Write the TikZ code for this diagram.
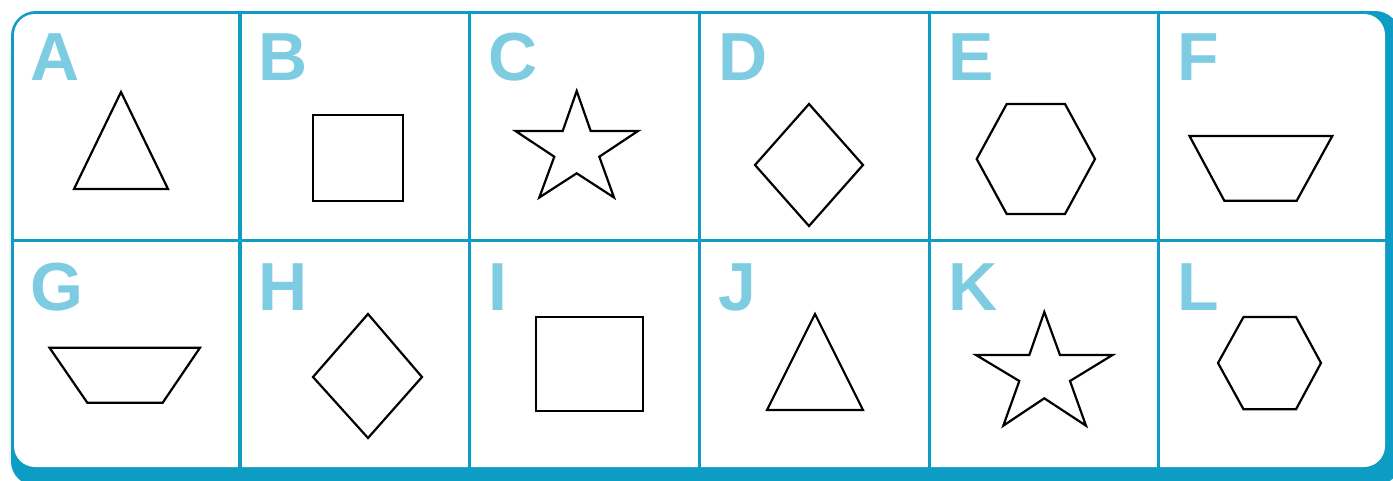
\documentclass[tikz,border=0pt]{standalone}
\usepackage{fontspec}
\setmainfont{Liberation Sans}
\definecolor{frame}{RGB}{12,156,196}
\definecolor{letter}{RGB}{126,204,226}
\tikzset{
  lab/.style={anchor=base west, inner sep=0pt, text=letter, font=\fontsize{68}{68}\bfseries\selectfont},
  shp/.style={draw=black, line width=2.2pt, line join=miter},
  grid/.style={draw=frame, line width=3.5pt}
}
\begin{document}
\begin{tikzpicture}[x=1pt,y=-1pt]
\useasboundingbox (0,0) rectangle (1393,480);
% frame
\fill[gray!10, rounded corners=25pt] (9,30) rectangle (1393,484);
\fill[frame, rounded corners=25pt] (11,11) rectangle (1400,486);
\fill[white, rounded corners=21pt] (14,14) rectangle (1385,467);
% grid
\draw[grid] (240,13) -- (240,468);
\draw[grid] (469.5,13) -- (469.5,468);
\draw[grid] (699.5,13) -- (699.5,468);
\draw[grid] (929.5,13) -- (929.5,468);
\draw[grid] (1158.5,13) -- (1158.5,468);
\draw[grid] (13,240.5) -- (1386,240.5);
% letters
\node[lab] (lA) at (30,80) {A};
\node[lab] (lB) at (258,80) {B};
\node[lab] (lC) at (488,80) {C};
\node[lab] (lD) at (718,80) {D};
\node[lab] (lE) at (948,80) {E};
\node[lab] (lF) at (1177,80) {F};
\node[lab] (lG) at (30,310) {G};
\node[lab] (lH) at (258,310) {H};
\node[lab] (lI) at (488,310) {I};
\node[lab] (lJ) at (718,310) {J};
\node[lab] (lK) at (948,310) {K};
\node[lab] (lL) at (1177,310) {L};
% A triangle
\draw[shp] (121,92) -- (168,189) -- (74,189) -- cycle;
% B square
\draw[shp] (313,115) rectangle (403,201);
% C star
\draw[shp] (576.7,91) -- (590.7,131) -- (638,131) -- (599.3,156.7) -- (614,197.5) -- (576.7,173.3) -- (539.3,197.5) -- (554.3,156.7) -- (515.5,131) -- (562.7,131) -- cycle;
% D diamond
\draw[shp] (809,104) -- (863,165) -- (809,226) -- (755,165) -- cycle;
% E hexagon
\draw[shp] (1006.7,104) -- (1065,104) -- (1095,159) -- (1065,214) -- (1006.7,214) -- (976.7,159) -- cycle;
% F trapezoid
\draw[shp] (1189.5,136) -- (1332.3,136) -- (1296.7,200.7) -- (1224.3,200.7) -- cycle;
% G trapezoid
\draw[shp] (49.5,347.7) -- (200,347.7) -- (162.7,402.7) -- (87.3,402.7) -- cycle;
% H diamond
\draw[shp] (368,314) -- (422,377) -- (368,438) -- (313,377) -- cycle;
% I rectangle
\draw[shp] (536,317) rectangle (643,411);
% J triangle
\draw[shp] (815,314) -- (863,410) -- (767,410) -- cycle;
% K star
\draw[shp] (1044.3,312) -- (1060,355) -- (1112.5,355) -- (1070,381) -- (1086,425.7) -- (1044.3,398.3) -- (1003.3,425.7) -- (1019.3,381) -- (976,355) -- (1029.3,355) -- cycle;
% L hexagon
\draw[shp] (1243.5,317) -- (1296,317) -- (1321,363) -- (1296,409.3) -- (1243.5,409.3) -- (1218,363) -- cycle;
\end{tikzpicture}
\end{document}
